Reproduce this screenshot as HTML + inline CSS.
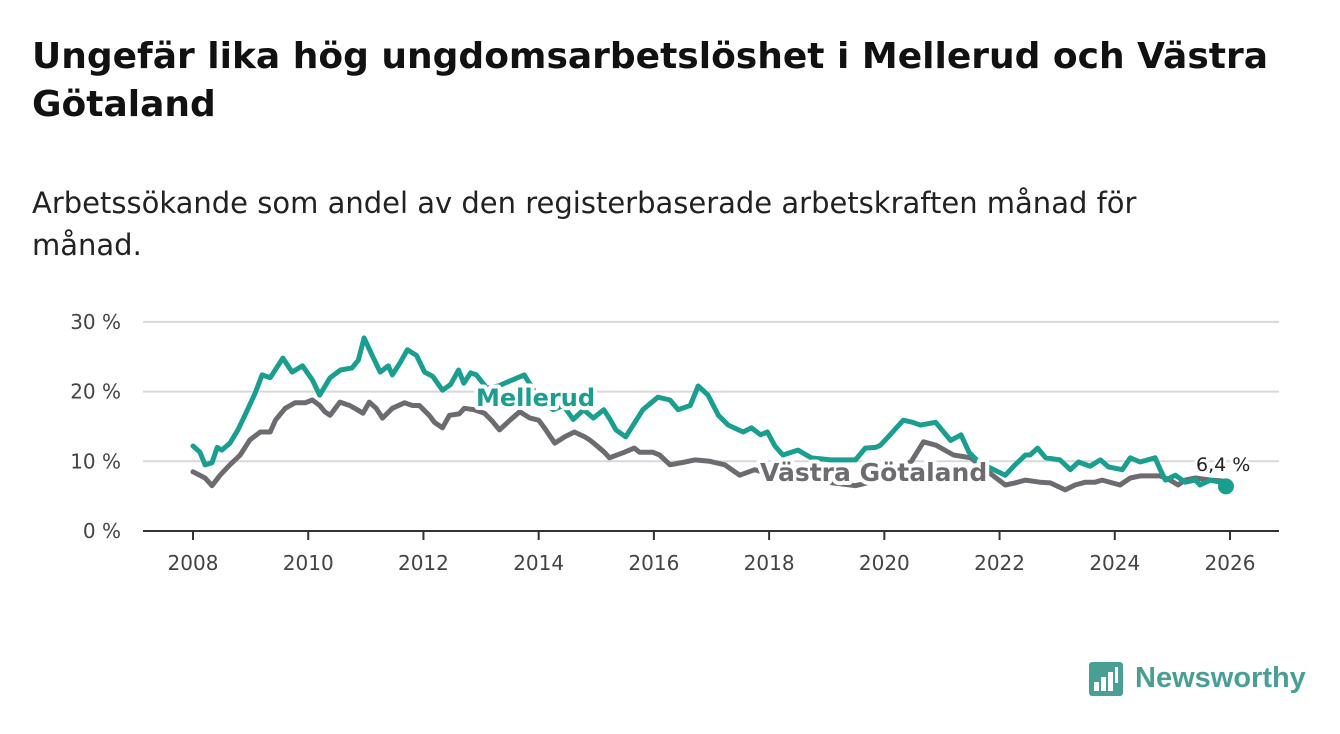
<!DOCTYPE html>
<html><head><meta charset="utf-8"><style>
body{margin:0;background:#fff;font-family:"DejaVu Sans","Liberation Sans",sans-serif;}
#wrap{position:relative;width:1340px;height:734px;overflow:hidden;}
h1{position:absolute;left:32px;top:33px;margin:0;font-size:36px;line-height:48px;font-weight:bold;color:#111;width:1290px;}
p.sub{position:absolute;left:32px;top:182px;margin:0;font-size:29px;line-height:42px;color:#222;width:1200px;}
svg{position:absolute;left:0;top:0;}
</style></head><body>
<div id="wrap">
<h1>Ungefär lika hög ungdomsarbetslöshet i Mellerud och Västra Götaland</h1>
<p class="sub">Arbetssökande som andel av den registerbaserade arbetskraften månad för månad.</p>
<svg id="chart" width="1340" height="734"></svg>
<div style="position:absolute;left:1089px;top:662px;width:230px;height:40px;">
<div style="position:absolute;left:0;top:0;width:34px;height:34px;background:#4a9f95;border-radius:3px;"></div>
<div style="position:absolute;left:5px;top:20px;width:5px;height:9px;background:#fff"></div>
<div style="position:absolute;left:12px;top:15px;width:5px;height:14px;background:#fff"></div>
<div style="position:absolute;left:19px;top:10px;width:5px;height:19px;background:#fff"></div>
<div style="position:absolute;left:26px;top:5px;width:3px;height:16px;background:#fff"></div>
<span style="position:absolute;left:46px;top:0;font-family:'Liberation Sans',sans-serif;font-size:29px;font-weight:bold;color:#4a9f95;">Newsworthy</span>
</div>
</div>
<script>
const mellerudX=[2008.0,2008.12,2008.21,2008.33,2008.42,2008.5,2008.64,2008.78,2008.9,2009.08,2009.2,2009.34,2009.56,2009.72,2009.9,2010.07,2010.2,2010.38,2010.56,2010.76,2010.87,2010.97,2011.11,2011.25,2011.39,2011.46,2011.6,2011.72,2011.88,2012.02,2012.16,2012.33,2012.47,2012.61,2012.7,2012.82,2012.92,2013.1,2013.3,2013.55,2013.75,2014.0,2014.25,2014.43,2014.6,2014.78,2014.95,2015.13,2015.24,2015.34,2015.51,2015.81,2016.07,2016.28,2016.42,2016.63,2016.77,2016.94,2017.12,2017.29,2017.55,2017.69,2017.85,2017.97,2018.1,2018.24,2018.5,2018.73,2019.07,2019.5,2019.67,2019.85,2019.93,2020.1,2020.33,2020.49,2020.63,2020.89,2021.15,2021.33,2021.47,2021.6,2021.8,2022.10,2022.27,2022.45,2022.53,2022.66,2022.80,2023.05,2023.23,2023.37,2023.57,2023.75,2023.89,2024.13,2024.27,2024.44,2024.70,2024.79,2024.88,2025.05,2025.22,2025.40,2025.48,2025.66,2025.83,2025.93];
const mellerudY=[12.2,11.3,9.5,9.8,12,11.6,12.6,14.5,16.6,19.8,22.4,22,24.8,22.8,23.7,21.7,19.5,22,23.1,23.4,24.5,27.7,25.2,22.8,23.7,22.4,24.2,26,25.2,22.8,22.2,20.2,21,23.1,21.2,22.7,22.4,20.5,20.8,21.7,22.4,19,17.4,18,16,17.4,16.2,17.4,16,14.5,13.5,17.4,19.2,18.8,17.4,18,20.8,19.5,16.6,15.2,14.2,14.8,13.8,14.2,12.2,10.9,11.6,10.5,10.2,10.2,11.9,12,12.3,13.8,15.9,15.6,15.2,15.6,13,13.8,11.3,10.2,9.2,8.0,9.5,10.9,10.9,11.9,10.5,10.2,8.8,9.9,9.3,10.2,9.2,8.8,10.5,9.9,10.5,8.8,7.3,8.0,7.0,7.3,6.6,7.3,7.0,6.4];
const vgX=[2008.0,2008.21,2008.33,2008.47,2008.64,2008.82,2008.99,2009.17,2009.34,2009.43,2009.6,2009.77,2009.95,2010.07,2010.2,2010.29,2010.38,2010.55,2010.72,2010.85,2010.95,2011.06,2011.18,2011.29,2011.46,2011.67,2011.81,2011.93,2012.1,2012.19,2012.33,2012.45,2012.62,2012.71,2012.88,2013.06,2013.18,2013.32,2013.5,2013.67,2013.85,2014.0,2014.1,2014.28,2014.45,2014.62,2014.8,2014.88,2015.0,2015.14,2015.23,2015.49,2015.66,2015.75,2015.98,2016.1,2016.28,2016.54,2016.71,2016.97,2017.23,2017.49,2017.75,2018.0,2018.5,2019.0,2019.5,2020.0,2020.47,2020.68,2020.9,2021.2,2021.5,2021.8,2022.10,2022.27,2022.45,2022.70,2022.88,2023.14,2023.31,2023.49,2023.66,2023.78,2024.09,2024.27,2024.44,2024.79,2024.96,2025.10,2025.22,2025.40,2025.66,2025.83,2025.93];
const vgY=[8.5,7.6,6.5,8,9.5,10.9,13.1,14.2,14.2,15.9,17.6,18.4,18.4,18.8,18,17.1,16.6,18.5,18,17.4,16.9,18.5,17.6,16.2,17.6,18.4,18,18,16.6,15.6,14.8,16.6,16.8,17.6,17.4,16.9,15.9,14.5,15.9,17.1,16.2,15.9,14.8,12.6,13.5,14.2,13.5,13.1,12.3,11.3,10.5,11.3,11.9,11.3,11.3,10.9,9.5,9.9,10.2,10.0,9.5,8,8.8,8.2,7.5,7.0,6.5,7.5,10,12.8,12.3,10.9,10.5,8.5,6.6,6.9,7.3,7.0,6.9,5.9,6.6,7.0,7.0,7.3,6.6,7.6,7.9,7.9,7.3,6.6,7.3,7.6,7.3,7.2,7.1];
const xTicks=[2008,2010,2012,2014,2016,2018,2020,2022,2024,2026];
const yTicks=[0,10,20,30];
const x0=193,px=(1230-193)/18;
const sx=v=>x0+(v-2008)*px;
const sy=v=>531-v*6.97;
const svg=document.getElementById('chart');
const NS='http://www.w3.org/2000/svg';
function mk(t,a){const e=document.createElementNS(NS,t);for(const k in a)e.setAttribute(k,a[k]);svg.appendChild(e);return e;}
yTicks.forEach(v=>{
  const l=mk('line',{x1:143,x2:1279,y1:sy(v),y2:sy(v),stroke:v===0?'#333':'#d8d8d8','stroke-width':2});
  
  
  const t=mk('text',{x:121,y:sy(v)+7,'text-anchor':'end','font-size':20,fill:'#444'});
  t.textContent=v+' %';
  
  
});
xTicks.forEach(v=>{
  const l=mk('line',{x1:sx(v),x2:sx(v),y1:531,y2:540,stroke:'#333','stroke-width':2});
  
  
  const t=mk('text',{x:sx(v),y:570,'text-anchor':'middle','font-size':20,fill:'#444'});
  t.textContent=v;
  
  
});
function line(xs,ys,c,n){
  const d=xs.map((x,i)=>(i?'L':'M')+sx(x).toFixed(1)+','+sy(ys[i]).toFixed(1)).join('');
  const p=mk('path',{d:d,fill:'none',stroke:c,'stroke-width':5,'stroke-linejoin':'round','stroke-linecap':'round'});
  
  
}
line(vgX,vgY,'#6d6b6f','line-vastra-gotaland');
line(mellerudX,mellerudY,'#1a9e90','line-mellerud');
const dot=mk('circle',{cx:sx(mellerudX[mellerudX.length-1]),cy:sy(mellerudY[mellerudY.length-1]),r:8,fill:'#1a9e90'});


function lab(x,y,txt,c,n,sz,bold){
  const t=mk('text',{x:x,y:y,'font-size':sz,'font-weight':bold?'bold':'normal',fill:c,stroke:'#fff','stroke-width':bold?8:6,'paint-order':'stroke','stroke-linejoin':'round'});
  t.textContent=txt;
  
  
}
lab(476,406,'Mellerud','#1a9e90','label-mellerud',24,true);
lab(760,481,'Västra Götaland','#6d6b6f','label-vastra-gotaland',25,true);
lab(1196,471,'6,4 %','#222','last-value-label',19,false);
</script>
</body></html>
